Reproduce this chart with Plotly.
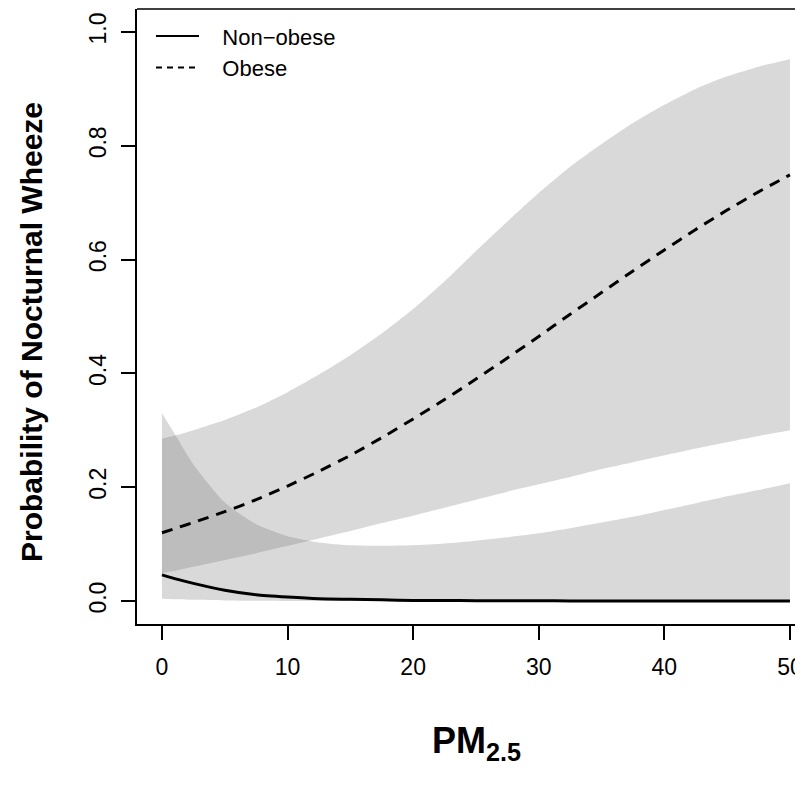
import plotly.graph_objects as go

# PM2.5 grid
pm25 = [0, 1.25, 2.5, 5, 7.5, 10, 12.5, 15, 17.5, 20, 22.5, 25, 27.5, 30,
        32.5, 35, 37.5, 40, 42.5, 45, 47.5, 50]

# Obese: predicted probability and 95% band
obese_mean = [0.120, 0.129, 0.138, 0.157, 0.178, 0.202, 0.228, 0.256, 0.287,
              0.320, 0.354, 0.390, 0.427, 0.465, 0.504, 0.542, 0.580, 0.617,
              0.653, 0.687, 0.719, 0.749]
obese_upper = [0.285, 0.292, 0.300, 0.318, 0.340, 0.367, 0.398, 0.432, 0.470,
               0.513, 0.562, 0.615, 0.667, 0.717, 0.763, 0.803, 0.840, 0.872,
               0.900, 0.922, 0.939, 0.952]
obese_lower = [0.049, 0.054, 0.060, 0.072, 0.084, 0.097, 0.110, 0.123, 0.137,
               0.150, 0.164, 0.178, 0.192, 0.205, 0.218, 0.232, 0.244, 0.256,
               0.268, 0.279, 0.290, 0.300]

# Non-obese: predicted probability and 95% band
nonobese_mean = [0.046, 0.038, 0.031, 0.019, 0.011, 0.007, 0.004, 0.003, 0.002,
                 0.001, 0.001, 0.0005, 0.0004, 0.0003, 0.0002, 0.0002, 0.0001,
                 0.0001, 0.0001, 0.0001, 0.0001, 0.0001]
nonobese_upper = [0.330, 0.285, 0.240, 0.173, 0.135, 0.114, 0.103, 0.098, 0.097,
                  0.098, 0.101, 0.106, 0.112, 0.119, 0.128, 0.138, 0.148, 0.160,
                  0.172, 0.184, 0.195, 0.207]
nonobese_lower = [0.004, 0.003, 0.002, 0.001, 0.0005, 0.0002, 0.0001, 0.0001,
                  0.0, 0.0, 0.0, 0.0, 0.0, 0.0, 0.0, 0.0, 0.0, 0.0, 0.0, 0.0,
                  0.0, 0.0]

x_ticks = [0, 10, 20, 30, 40, 50]
y_ticks = [0.0, 0.2, 0.4, 0.6, 0.8, 1.0]
y_tick_labels = ["0.0", "0.2", "0.4", "0.6", "0.8", "1.0"]
legend_labels = ["Non\u2212obese", "Obese"]

band_color = "rgba(110,108,112,0.26)"
FONT = "Liberation Sans, Arial, Helvetica, sans-serif"

# the page body adds an 8px offset; the figure is sized to compensate
W, H = 795, 782
L, T, B = 129, 1, 166
PW, PH = W - L, H - T - B

fig = go.Figure()

# Bands
for lo, hi in [(nonobese_lower, nonobese_upper), (obese_lower, obese_upper)]:
    fig.add_trace(go.Scatter(x=pm25, y=lo, mode="lines",
                             line=dict(width=0, shape="spline", smoothing=0.6),
                             showlegend=False, hoverinfo="skip"))
    fig.add_trace(go.Scatter(x=pm25, y=hi, mode="lines", fill="tonexty",
                             fillcolor=band_color,
                             line=dict(width=0, shape="spline", smoothing=0.6),
                             showlegend=False, hoverinfo="skip"))

# Mean lines
fig.add_trace(go.Scatter(x=pm25, y=nonobese_mean, mode="lines",
                         line=dict(color="black", width=3, shape="spline", smoothing=0.6),
                         showlegend=False))
fig.add_trace(go.Scatter(x=pm25, y=obese_mean, mode="lines",
                         line=dict(color="black", width=3, dash="11px,8px",
                                   shape="spline", smoothing=0.6),
                         showlegend=False))

# Legend entries
fig.add_trace(go.Scatter(x=[None], y=[None], mode="lines",
                         name="\u00a0\u00a0\u00a0" + legend_labels[0],
                         line=dict(color="black", width=2)))
fig.add_trace(go.Scatter(x=[None], y=[None], mode="lines",
                         name="\u00a0\u00a0\u00a0" + legend_labels[1],
                         line=dict(color="black", width=2, dash="6px,5px")))

fig.update_layout(
    width=W, height=H,
    margin=dict(l=L, r=0, t=T, b=B, pad=0),
    paper_bgcolor="white", plot_bgcolor="white",
    font=dict(family=FONT, color="black"),
    showlegend=True,
    legend=dict(x=0.021, y=0.990, xanchor="left", yanchor="top",
                traceorder="normal",
                bgcolor="rgba(0,0,0,0)", font=dict(size=22, family=FONT),
                itemwidth=43, tracegroupgap=0),
    xaxis=dict(range=[-1.99, 51.04], tickvals=x_ticks, showgrid=False,
               zeroline=False, showline=True, linecolor="black", linewidth=1.5,
               ticks="outside", ticklen=14, tickwidth=1.5, tickcolor="black",
               tickfont=dict(size=23, family=FONT), ticklabelstandoff=8,
               automargin=False),
    yaxis=dict(range=[-0.0404, 1.0404], tickvals=y_ticks, ticktext=y_tick_labels,
               showgrid=False, zeroline=False, showline=True, linecolor="black",
               linewidth=1.5, ticks="outside", ticklen=14, tickwidth=1.5,
               tickcolor="black", tickangle=-90,
               tickfont=dict(size=23, family=FONT), ticklabelstandoff=6,
               automargin=False),
    shapes=[dict(type="line", xref="paper", yref="paper", x0=0, x1=1, y0=1, y1=1,
                 line=dict(color="black", width=1.5))],
    annotations=[
        dict(text="<b>Probability of Nocturnal Wheeze</b>", textangle=-90,
             xref="paper", yref="paper", x=(24 - L) / PW, y=(616 - 324) / PH,
             xanchor="center", yanchor="middle", showarrow=False,
             font=dict(size=30, family=FONT)),
        dict(text="<b>PM<sub>2.5</sub></b>",
             xref="paper", yref="paper", x=(468 - L) / PW, y=-(735 - 616) / PH,
             xanchor="center", yanchor="middle", showarrow=False,
             font=dict(size=36, family=FONT)),
    ],
)

fig.write_html("out.html")
